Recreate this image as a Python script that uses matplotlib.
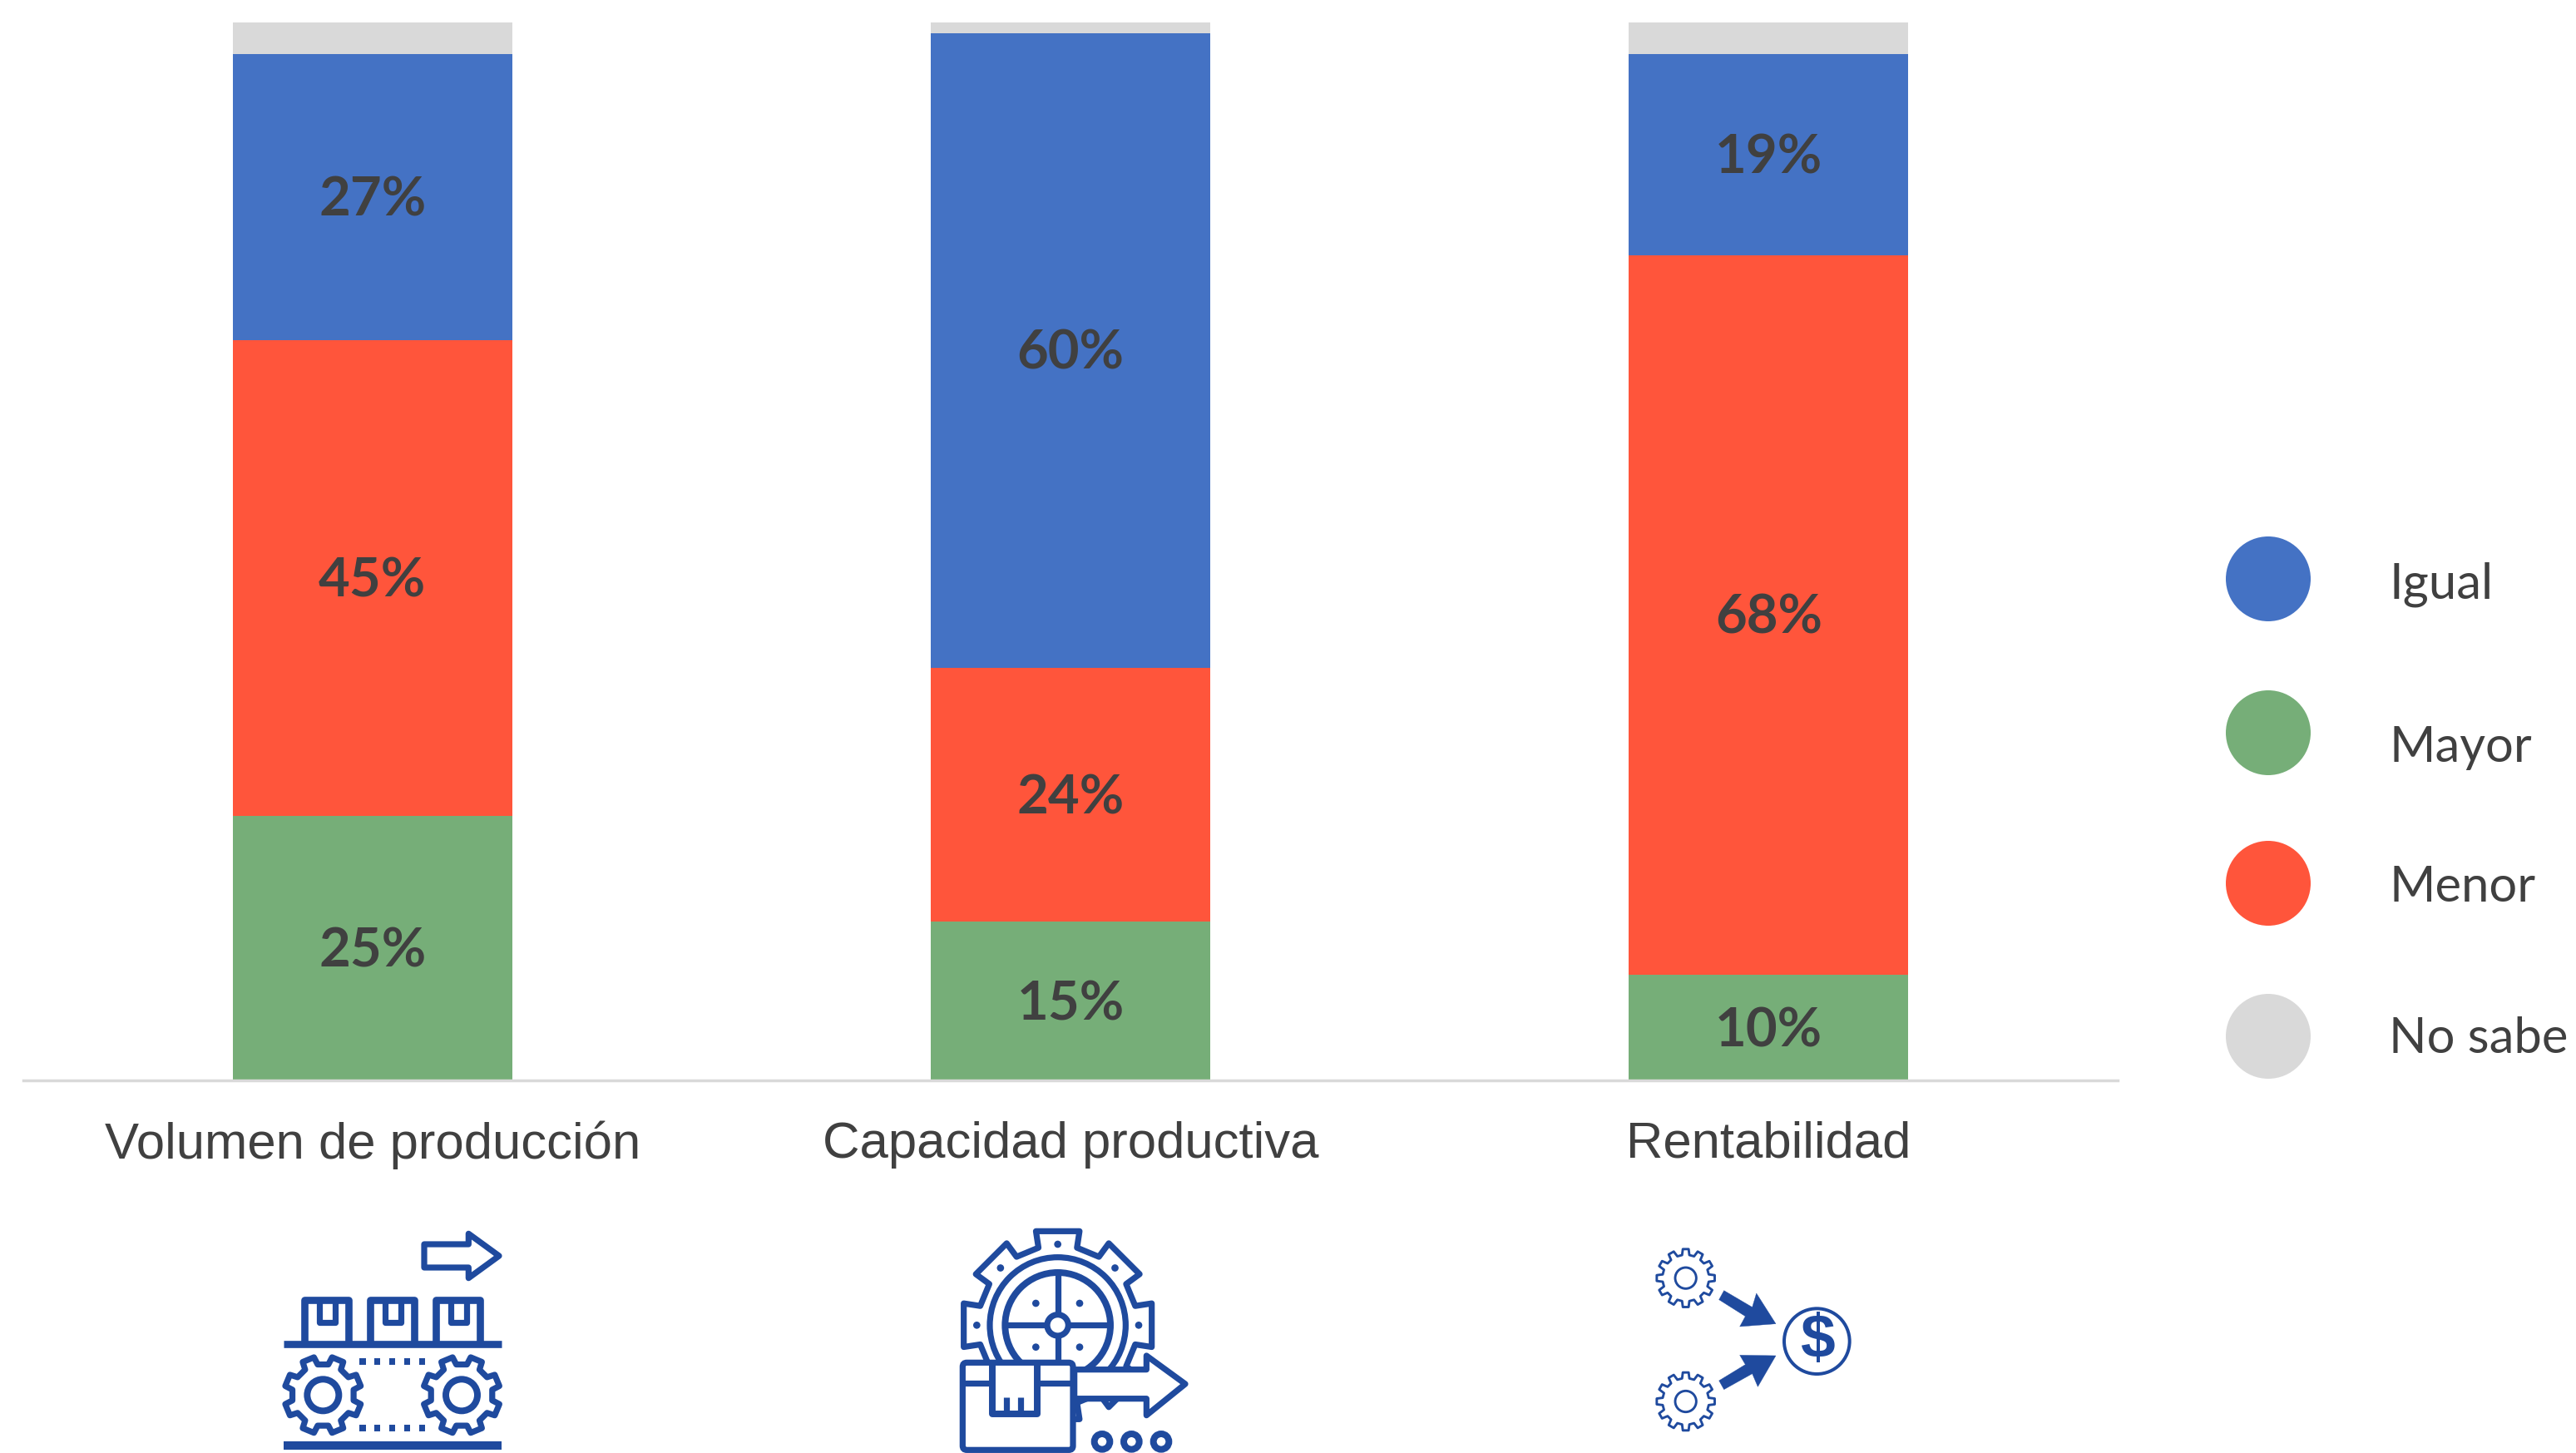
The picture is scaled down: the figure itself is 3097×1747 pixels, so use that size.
import numpy as np
import matplotlib
matplotlib.use("Agg")
import matplotlib.pyplot as plt
from matplotlib.patches import Circle, Polygon, FancyBboxPatch

categories = ["Volumen de producción", "Capacidad productiva", "Rentabilidad"]
mayor = [25, 15, 10]
menor = [45, 24, 68]
igual = [27, 60, 19]
no_sabe = [3, 1, 3]

legend_labels = ["Igual", "Mayor", "Menor", "No sabe"]
legend_y = [696, 881, 1062, 1246]
legend_text_y = [703, 899, 1067, 1249]

BLUE = "#4472C4"
GREEN = "#76AE78"
RED = "#FF553B"
GREY = "#D9D9D9"
TEXT = "#404040"
ICON = "#1F4A9E"

W, H = 3097, 1747
fig = plt.figure(figsize=(W / 100, H / 100), dpi=100, facecolor="white")

# main chart
ax = fig.add_axes([28 / W, 1 - 1299 / H, 2518 / W, (1299 - 27) / H])
x = np.arange(len(categories))
bottom = np.zeros(len(categories))
for values, color in [(mayor, GREEN), (menor, RED), (igual, BLUE), (no_sabe, GREY)]:
    ax.bar(x, values, width=0.4, bottom=bottom, color=color, linewidth=0)
    if color != GREY:
        for xi, b, v in zip(x, bottom, values):
            ax.annotate(f"{v}%", (xi, b + v / 2), xytext=(0, -3), textcoords="offset points",
                        ha="center", va="center", fontsize=47, fontweight="bold",
                        family="Lato", color=TEXT)
    bottom += np.array(values)

ax.set_xlim(-0.5, 2.5)
ax.set_ylim(0, 100)
ax.set_yticks([])
ax.set_xticks(x)
ax.set_xticklabels(categories, fontsize=44.4, family="Liberation Sans", color=TEXT)
ax.tick_params(axis="x", length=0, pad=35)
for side in ["top", "left", "right"]:
    ax.spines[side].set_visible(False)
ax.spines["bottom"].set_color(GREY)
ax.spines["bottom"].set_linewidth(2.5)
ax.patch.set_alpha(0)

# overlay in pixel coordinates for legend and icons
ov = fig.add_axes([0, 0, 1, 1])
ov.set_xlim(0, W)
ov.set_ylim(H, 0)
ov.axis("off")
ov.patch.set_alpha(0)

for y, ty, label, color in zip(legend_y, legend_text_y, legend_labels, [BLUE, GREEN, RED, GREY]):
    ov.add_patch(Circle((2727, y), 51, color=color, lw=0))
    ov.text(2872, ty, label, fontsize=43, family="Lato", color=TEXT, va="center", ha="left")


def gear_points(cx, cy, r_out, r_in, teeth, start=0.0, tip=0.19, base=0.30):
    """Outline of a gear with flat teeth"""
    pts = []
    step = 2 * np.pi / teeth
    for i in range(teeth):
        a = start + i * step
        for da, r in [(-base, r_in), (-tip, r_out), (tip, r_out), (base, r_in)]:
            pts.append((cx + r * np.cos(a + da * step), cy + r * np.sin(a + da * step)))
    return pts


class Icon:
    def __init__(self, x0, y0):
        self.x0 = x0
        self.y0 = y0

    def p(self, pts):
        return [(self.x0 + a / 3, self.y0 + b / 3) for a, b in pts]

    def poly(self, pts, lw=20, fill="white", z=3):
        ov.add_patch(Polygon(self.p(pts), closed=True, fc=fill, ec=ICON, lw=lw * 0.26,
                             joinstyle="round", zorder=z))

    def line(self, pts, lw=20, z=3, cap="butt"):
        xy = np.array(self.p(pts))
        ov.plot(xy[:, 0], xy[:, 1], color=ICON, lw=lw * 0.26, solid_capstyle=cap, zorder=z)

    def circle(self, c, r, lw=20, fill="white", z=3):
        ov.add_patch(Circle(self.p([c])[0], r / 3, fc=fill, ec=ICON, lw=lw * 0.26, zorder=z))

    def dot(self, c, r, z=3):
        ov.add_patch(Circle(self.p([c])[0], r / 3, fc=ICON, ec="none", zorder=z))


# icon 1: conveyor
a = Icon(280, 1440)
a.poly([(690, 168), (850, 168), (850, 130), (960, 210), (850, 290), (850, 252), (690, 252)])
for left in [258, 495, 732]:
    a.line([(left, 527), (left, 368), (left + 160, 368), (left + 160, 527)], lw=24)
    a.line([(left + 55, 368), (left + 55, 450), (left + 110, 450), (left + 110, 368)], lw=20)
a.line([(182, 527), (970, 527)], lw=24)
a.line([(182, 895), (970, 895)], lw=28)
for dx in [468, 520, 574, 628, 682]:
    a.line([(dx - 11, 592), (dx + 11, 592)], lw=22)
    a.line([(dx - 11, 830), (dx + 11, 830)], lw=22)
for cx in [325, 825]:
    a.poly(gear_points(cx, 712, 140, 112, 8, start=np.pi / 8, tip=0.2, base=0.28), lw=20)
    a.circle((cx, 712), 57, lw=22)

# icon 2: gear with box
b = Icon(1100, 1440)
b.poly(gear_points(515, 460, 348, 288, 8, tip=0.29, base=0.31), lw=20, z=3)
for r, lw in [(245, 20), (190, 22)]:
    b.circle((515, 460), r, lw=lw, z=3)
for ang in np.deg2rad([0, 90, 180, 270]):
    b.line([(515, 460), (515 + 190 * np.cos(ang), 460 + 190 * np.sin(ang))], lw=20, z=3)
b.circle((515, 460), 38, lw=20, z=3)
for ang in np.deg2rad([0, 45, 90, 135, 180]):
    b.dot((515 + 292 * np.cos(ang), 460 - 292 * np.sin(ang)), 13)
for dx, dy in [(-79, -79), (79, -79), (-79, 79), (79, 79)]:
    b.dot((515 + dx, 460 + dy), 13)
b.poly([(575, 620), (835, 620), (835, 570), (975, 672), (835, 785), (835, 725), (575, 725)], z=4)
xy0 = b.p([(172, 595)])[0]
ov.add_patch(FancyBboxPatch(xy0, 398 / 3, 315 / 3, boxstyle="round,pad=0,rounding_size=5",
                            fc="white", ec=ICON, lw=20 * 0.26, zorder=5))
b.line([(172, 670), (278, 670)], z=6)
b.line([(440, 670), (570, 670)], z=6)
b.line([(278, 595), (278, 780), (440, 780), (440, 595)], lw=22, z=6)
b.line([(330, 720), (330, 780)], lw=20, z=6)
b.line([(382, 720), (382, 780)], lw=20, z=6)
for cx in [675, 781, 888]:
    b.circle((cx, 880), 28, lw=22)

# icon 3: gears to money
c = Icon(1950, 1470)
for cy in [200, 645]:
    c.poly(gear_points(230, cy, 105, 84, 12), lw=8)
    c.circle((230, cy), 38, lw=8)
c.poly([(350, 278), (368, 245), (470, 305), (485, 255), (555, 365), (425, 375), (445, 338)],
       lw=1, fill=ICON)
c.poly([(350, 570), (368, 602), (470, 545), (490, 592), (555, 480), (425, 478), (445, 512)],
       lw=1, fill=ICON)
c.circle((703, 428), 118, lw=11)
ov.text(*c.p([(703, 428)])[0], "$", fontsize=54, fontweight="bold", family="Liberation Sans",
        color=ICON, ha="center", va="center", zorder=5)

fig.savefig("out.png", dpi=100)
